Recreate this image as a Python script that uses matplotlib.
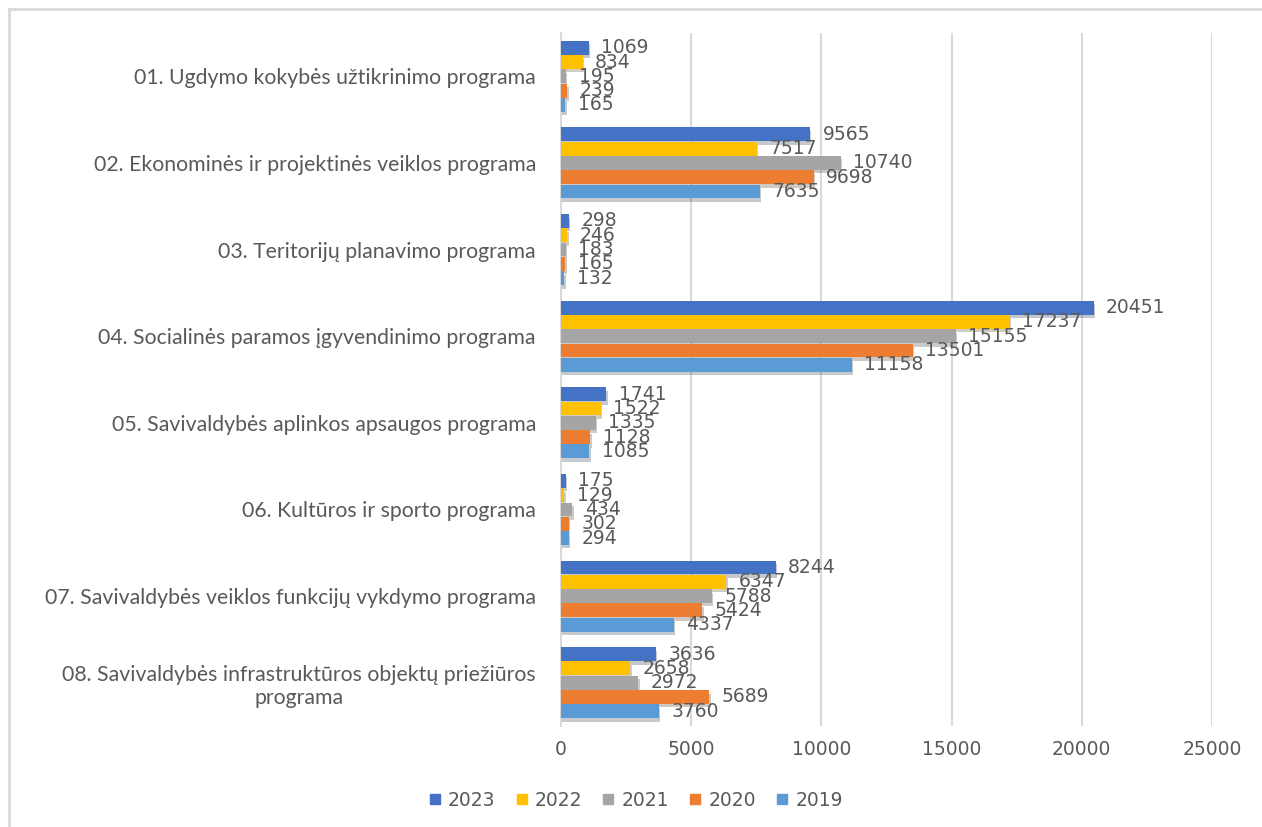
import matplotlib
matplotlib.use("Agg")
import matplotlib.pyplot as plt
import matplotlib.patheffects as pe
from matplotlib.lines import Line2D
import numpy as np

categories = [
    "01. Ugdymo kokybės užtikrinimo programa",
    "02. Ekonominės ir projektinės veiklos programa",
    "03. Teritorijų planavimo programa",
    "04. Socialinės paramos įgyvendinimo programa",
    "05. Savivaldybės aplinkos apsaugos programa",
    "06. Kultūros ir sporto programa",
    "07. Savivaldybės veiklos funkcijų vykdymo programa",
    "08. Savivaldybės infrastruktūros objektų priežiūros\nprograma",
]
years = ["2023", "2022", "2021", "2020", "2019"]
v2023 = [1069, 9565, 298, 20451, 1741, 175, 8244, 3636]
v2022 = [834, 7517, 246, 17237, 1522, 129, 6347, 2658]
v2021 = [195, 10740, 183, 15155, 1335, 434, 5788, 2972]
v2020 = [239, 9698, 165, 13501, 1128, 302, 5424, 5689]
v2019 = [165, 7635, 132, 11158, 1085, 294, 4337, 3760]
series = [v2023, v2022, v2021, v2020, v2019]
colors = ["#4472C4", "#FFC000", "#A5A5A5", "#ED7D31", "#5B9BD5"]
xticks = [0, 5000, 10000, 15000, 20000, 25000]

txt = "#595959"
fig = plt.figure(figsize=(12.62, 8.27), dpi=100)
ax = fig.add_axes([561/1262, 1 - 726/827, 651/1262, (726 - 33)/827])

n = len(categories)
bh = 0.165
y = np.arange(n)
for i, (vals, c) in enumerate(zip(series, colors)):
    ypos = y - 2 * bh + i * bh
    ax.barh(ypos, vals, height=bh * 0.97, color=c, zorder=3,
            path_effects=[pe.SimplePatchShadow(offset=(1, -2.5), alpha=0.25), pe.Normal()])
    for yy, v in zip(ypos, vals):
        ax.annotate(str(v), (v, yy), xytext=(9, 0), textcoords="offset points",
                    ha="left", va="center", fontsize=13.5, color=txt,
                    family="DejaVu Sans", zorder=5)

ax.set_xlim(0, 25000)
ax.set_ylim(n - 0.5, -0.5)
ax.set_xticks(xticks)
ax.set_xticklabels([str(t) for t in xticks], fontsize=13.5, color=txt, family="DejaVu Sans")
ax.set_yticks(y)
ax.set_yticklabels(categories, fontsize=15.3, color=txt, family="Lato", ha="right",
                   multialignment="center")
ax.tick_params(axis="y", length=0, pad=18)
ax.tick_params(axis="x", length=0, pad=10)
ax.grid(axis="x", color="#D9D9D9", linewidth=1.5, zorder=0)
for s in ["top", "right", "bottom"]:
    ax.spines[s].set_visible(False)
ax.spines["left"].set_color("#D9D9D9")
ax.spines["left"].set_linewidth(1.5)

handles = [Line2D([0], [0], marker="s", linestyle="", markersize=7.5, markerfacecolor=c,
                  markeredgecolor=c) for c in colors]
fig.legend(handles, years, loc="center", bbox_to_anchor=(635/1262, 1 - 800/827), ncol=5,
           frameon=False, prop={"family": "DejaVu Sans", "size": 13.5},
           labelcolor=txt, handletextpad=0.3, columnspacing=1.0, handlelength=0.8)

fig.add_artist(Line2D([9/1262, 9/1262], [0, 1 - 9/827], transform=fig.transFigure,
                      color="#D9D9D9", linewidth=2))
fig.add_artist(Line2D([9/1262, 1], [1 - 9/827, 1 - 9/827], transform=fig.transFigure,
                      color="#D9D9D9", linewidth=2))

fig.savefig("out.png", dpi=100)
